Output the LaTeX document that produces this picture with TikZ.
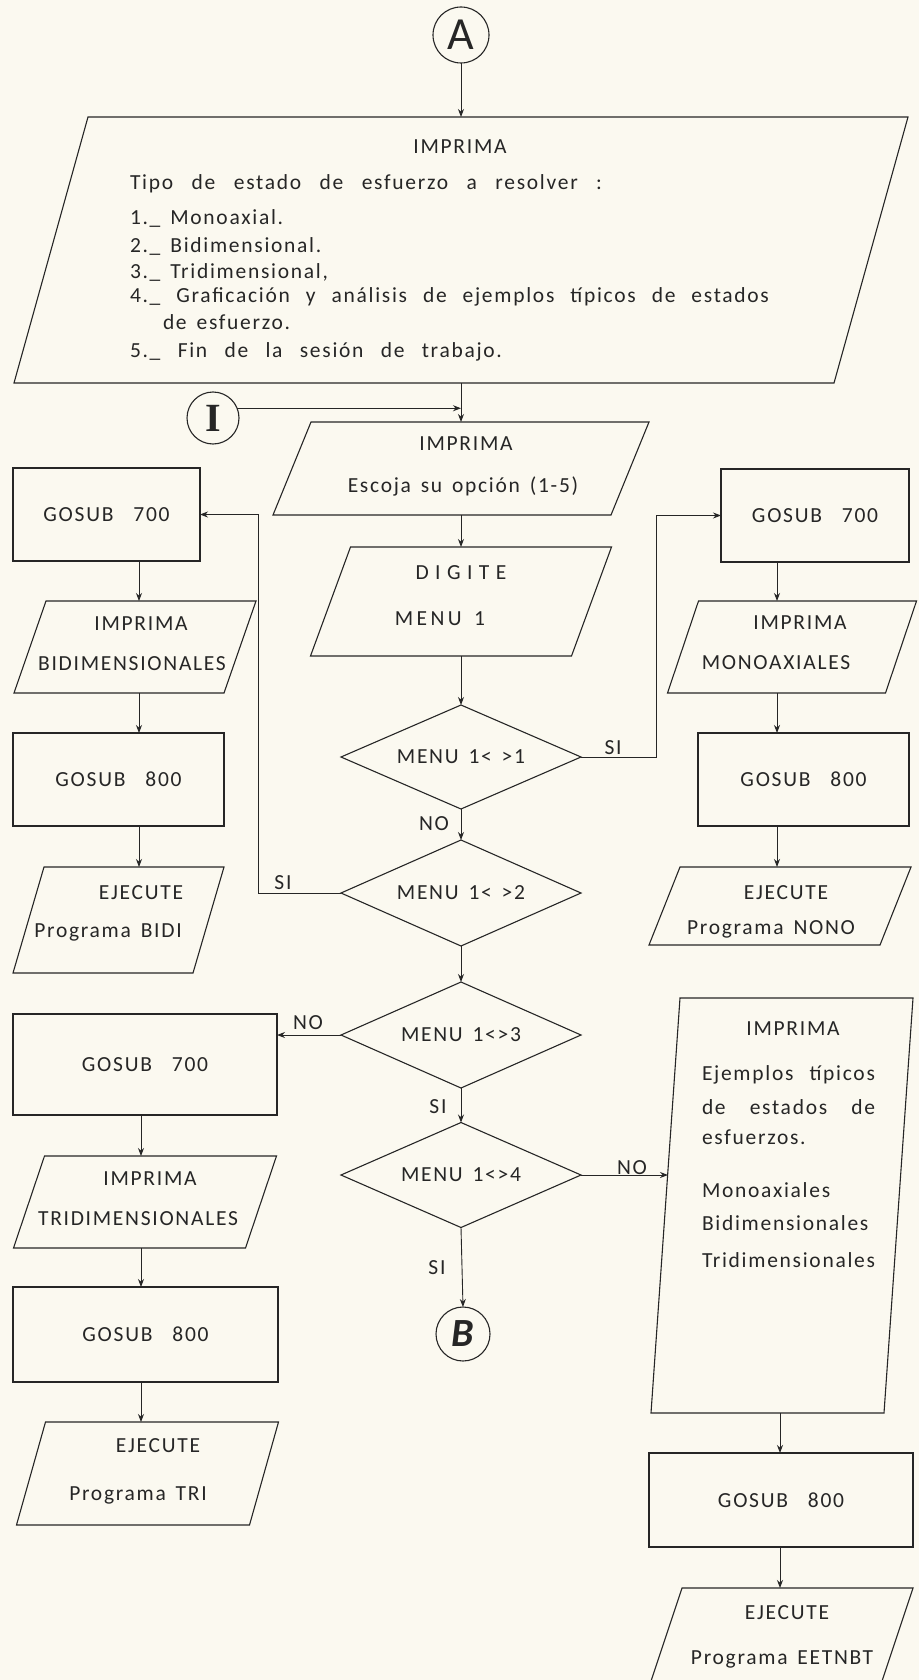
\documentclass[tikz,border=0pt]{standalone}
\usepackage{fontspec}
\setmainfont{Carlito}[LetterSpace=8, WordSpace=1.5]
\newfontfamily\heavyserif{Liberation Serif}
\usetikzlibrary{shapes.geometric, arrows.meta, calc}

\definecolor{paper}{RGB}{251,249,240}
\definecolor{ink}{RGB}{38,38,38}

\newcommand\txtfont{\fontsize{21.5}{25}\selectfont}
\newcommand\gosub[1]{GOSUB\hspace{10pt} #1}

\tikzset{
  line/.style={draw=ink, line width=1.1pt, line join=miter},
  arr/.style={draw=ink, line width=0.9pt, -{Stealth[length=8pt,width=6pt]}},
  shapebody/.style={rectangle, inner sep=0pt, outer sep=0pt, draw=none},
  proc/.style={rectangle, draw=ink, line width=1.1pt, inner sep=0pt, outer sep=0pt,
               font=\txtfont, text=ink},
  dec/.style={diamond, aspect=2.3, draw=ink, line width=1.1pt, inner sep=0pt, outer sep=0pt,
              font=\txtfont, text=ink},
  conn/.style={circle, draw=ink, line width=1.1pt, inner sep=0pt, outer sep=0pt, text=ink},
  txt/.style={inner sep=0pt, outer sep=0pt, font=\txtfont, text=ink,
              text height=14pt, text depth=0pt},
  ltxt/.style={txt, anchor=west}
}

% input/output parallelogram: name, centre x, centre y, body width, height, slant
\newcommand\iobox[6]{%
  \node[shapebody, minimum width=#4pt, minimum height=#5pt] (#1) at (#2,#3) {};
  \draw[line] ([xshift={#6/2}]#1.north west) -- ([xshift={#6/2}]#1.north east)
    -- ([xshift={-#6/2}]#1.south east) -- ([xshift={-#6/2}]#1.south west) -- cycle;}

\begin{document}
\begin{tikzpicture}[x=1pt,y=-1pt]
\useasboundingbox (0,0) rectangle (919,1680);
\fill[paper] (0,0) rectangle (919,1680);
\clip (0,0) rectangle (919,1680);

% ---------- entry connector and main menu ----------
\node[conn, minimum size=56pt, font=\fontsize{46}{46}\selectfont] (A) at (461,35) {A};

\iobox{big}{461}{250}{820}{266}{74}
\node[txt] (big-t0) at (460,147) {IMPRIMA};
\node[ltxt] (big-t1) at (130,183) {\makebox[472pt][s]{Tipo de estado de esfuerzo a resolver :}};
\node[ltxt] (big-t2) at (130,218) {1.\_ Monoaxial.};
\node[ltxt] (big-t3) at (130,245) {2.\_ Bidimensional.};
\node[ltxt] (big-t4) at (130,272) {3.\_ Tridimensional,};
\node[ltxt] (big-t5) at (130,295) {\makebox[639pt][s]{4.\_ Graficación y análisis de ejemplos típicos de estados}};
\node[ltxt] (big-t6) at (163,322) {de esfuerzo.};
\node[ltxt] (big-t7) at (130,350) {\makebox[372pt][s]{5.\_ Fin de la sesión de trabajo.}};

\node[conn, minimum size=52pt, font=\heavyserif\bfseries\fontsize{40}{40}\selectfont] (I) at (213,418) {I};

\iobox{p2}{461}{468.5}{338}{93}{38}
\node[txt] (p2-t0) at (466,443) {IMPRIMA};
\node[txt] (p2-t1) at (463,485) {Escoja su opción (1-5)};

\iobox{p3}{461}{601.5}{261}{109}{40}
\node[txt, font=\txtfont\addfontfeature{LetterSpace=30}] (p3-t0) at (461,572) {DIGITE};
\node[txt, font=\txtfont\addfontfeature{LetterSpace=16}] (p3-t1) at (440,618) {MENU 1};

% ---------- decisions ----------
\node[dec, minimum width=240pt, minimum height=104pt] (D1) at (461,757) {MENU 1< >1};
\node[dec, minimum width=240pt, minimum height=106pt] (D2) at (461,893) {MENU 1< >2};
\node[dec, minimum width=240pt, minimum height=106pt] (D3) at (461,1035) {MENU 1<>3};
\node[dec, minimum width=240pt, minimum height=105pt] (D4) at (461,1175) {MENU 1<>4};

\node[conn, minimum size=54pt, font=\bfseries\itshape\fontsize{40}{40}\selectfont] (B) at (463,1334) {B};

% ---------- option 1 (right column) ----------
\node[proc, minimum width=188pt, minimum height=93pt] (g7r) at (815,515.5) {\gosub{700}};
\iobox{mono}{792}{647}{218}{92}{31}
\node[txt] (mono-t0) at (800,622) {IMPRIMA};
\node[txt] (mono-t1) at (776,662) {MONOAXIALES};
\node[proc, minimum width=211pt, minimum height=93pt] (g8r) at (803.5,779.5) {\gosub{800}};
\iobox{exN}{780}{906}{231}{78}{31}
\node[txt] (exN-t0) at (786,892) {EJECUTE};
\node[txt] (exN-t1) at (771,927) {Programa NONO};

% ---------- option 2 (left column) ----------
\node[proc, minimum width=187pt, minimum height=93pt] (g7l) at (106.5,514.5) {\gosub{700}};
\iobox{imB}{135}{647}{210}{92}{32}
\node[txt] (imB-t0) at (141,623) {IMPRIMA};
\node[txt] (imB-t1) at (132,663) {BIDIMENSIONALES};
\node[proc, minimum width=211pt, minimum height=93pt] (g8l) at (118.5,779.5) {\gosub{800}};
\iobox{exB}{118.5}{920}{180}{106}{31}
\node[txt] (exB-t0) at (141,892) {EJECUTE};
\node[txt] (exB-t1) at (108,930) {Programa BIDI};

% ---------- option 3 (left column, lower) ----------
\node[proc, minimum width=264pt, minimum height=101pt] (g7l2) at (145,1064.5) {\gosub{700}};
\iobox{imT}{145}{1202}{232}{92}{31}
\node[txt] (imT-t0) at (150,1178) {IMPRIMA};
\node[txt] (imT-t1) at (138,1218) {TRIDIMENSIONALES};
\node[proc, minimum width=265pt, minimum height=95pt] (g8l2) at (145.5,1334.5) {\gosub{800}};
\iobox{exT}{147.5}{1473.5}{233}{103}{29}
\node[txt] (exT-t0) at (158,1445) {EJECUTE};
\node[txt] (exT-t1) at (138,1493) {Programa TRI};

% ---------- option 4 (right column, lower) ----------
\iobox{rp}{782}{1205.5}{233}{415}{29}
\node[txt] (rp-t0) at (793,1028) {IMPRIMA};
\node[ltxt] (rp-t1) at (702,1073) {\makebox[173pt][s]{Ejemplos típicos}};
\node[ltxt] (rp-t2) at (702,1107) {\makebox[173pt][s]{de estados de}};
\node[ltxt] (rp-t3) at (702,1137) {esfuerzos.};
\node[ltxt] (rp-t4) at (702,1190) {Monoaxiales};
\node[ltxt] (rp-t5) at (702,1223) {Bidimensionales};
\node[ltxt] (rp-t6) at (702,1260) {Tridimensionales};
\node[proc, minimum width=264pt, minimum height=94pt] (g8r2) at (781,1500) {\gosub{800}};
\iobox{exE}{781.5}{1636}{231}{96}{32}
\node[txt] (exE-t0) at (787,1612) {EJECUTE};
\node[txt] (exE-t1) at (782,1657) {Programa EETNBT};

% ---------- branch labels ----------
\node[txt] (l-si1) at (613,747) {SI};
\node[txt] (l-no1) at (434,823) {NO};
\node[txt] (l-si2) at (283,882) {SI};
\node[txt] (l-no2) at (308,1022) {NO};
\node[txt] (l-si3) at (438,1106) {SI};
\node[txt] (l-no3) at (632,1167) {NO};
\node[txt] (l-si4) at (437,1267) {SI};

% ---------- routing points ----------
\coordinate (k1) at (656,757);
\coordinate (k2) at (258,893);
\coordinate (rpin) at (668,1175);
\coordinate (lc1) at (139,0);
\coordinate (rc1) at (777,0);
\coordinate (lc2) at (141,0);
\coordinate (rc2) at (780,0);

% ---------- main flow ----------
\draw[arr] (A.south) -- (big.north);
\draw[arr] (big.south) -- (p2.north);
\draw[arr] (I.22) -- (I.22 -| big.south);
\draw[arr] (p2.south) -- (p3.north);
\draw[arr] (p3.south) -- (D1.north);
\draw[arr] (D1.south) -- (D2.north);
\draw[arr] (D2.south) -- (D3.north);
\draw[arr] (D3.south) -- (D4.north);
\draw[arr] (D4.south) -- (B.north);

% ---------- branches ----------
\draw[arr] (D1.east) -- (k1) |- (g7r.west);
\draw[arr] (D2.west) -- (k2) |- (g7l.east);
\draw[arr] (D3.west) -- (D3.west -| g7l2.east);
\draw[arr] (D4.east) -- (rpin);

% ---------- column flows ----------
\draw[arr] (g7r.south -| rc1) -- (mono.north -| rc1);
\draw[arr] (mono.south -| rc1) -- (g8r.north -| rc1);
\draw[arr] (g8r.south -| rc1) -- (exN.north -| rc1);

\draw[arr] (g7l.south -| lc1) -- (imB.north -| lc1);
\draw[arr] (imB.south -| lc1) -- (g8l.north -| lc1);
\draw[arr] (g8l.south -| lc1) -- (exB.north -| lc1);

\draw[arr] (g7l2.south -| lc2) -- (imT.north -| lc2);
\draw[arr] (imT.south -| lc2) -- (g8l2.north -| lc2);
\draw[arr] (g8l2.south -| lc2) -- (exT.north -| lc2);

\draw[arr] (rp.south -| rc2) -- (g8r2.north -| rc2);
\draw[arr] (g8r2.south -| rc2) -- (exE.north -| rc2);
\end{tikzpicture}
\end{document}
